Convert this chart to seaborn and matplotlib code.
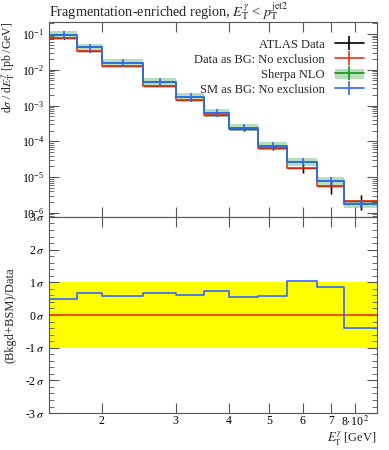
import numpy as np
import pandas as pd
import matplotlib
matplotlib.use("Agg")
import matplotlib.pyplot as plt
import seaborn as sns
from matplotlib.lines import Line2D
from matplotlib.patches import Patch
from matplotlib.ticker import FixedLocator, NullFormatter, MultipleLocator

# -------------------------------
# data
# -------------------------------
edges = [150, 175, 200, 250, 300, 350, 400, 470, 550, 650, 750, 900]
data_vals = [0.075, 0.033, 0.0129, 0.0036, 0.00138, 5.3e-4, 2.15e-4, 6.4e-5, 1.8e-5, 5.5e-6, 2.2e-6]
data_relerr = [0.04, 0.04, 0.04, 0.05, 0.05, 0.06, 0.07, 0.10, 0.30, 0.40, 0.45]
sherpa_vals = [0.091, 0.042, 0.0154, 0.0045, 0.0017, 6.3e-4, 2.4e-4, 7.4e-5, 2.6e-5, 7.6e-6, 1.74e-6]
sherpa_up = [0.118, 0.054, 0.020, 0.0058, 0.0022, 8.1e-4, 3.1e-4, 9.5e-5, 3.4e-5, 9.8e-6, 2.25e-6]
sherpa_dn = [0.071, 0.033, 0.0121, 0.0035, 0.00133, 4.9e-4, 1.88e-4, 5.8e-5, 2.0e-5, 5.9e-6, 1.36e-6]
ratio_sigma = [0.50, 0.66, 0.58, 0.66, 0.61, 0.73, 0.55, 0.59, 1.05, 0.87, -0.41]

xticks = [200, 300, 400, 500, 600, 700, 800]
xticklabels = ["2", "3", "4", "5", "6", "7", r"8$\cdot$10$^{\,2}$"]

RED = "#EE3311"
BLUE = "#3366FF"
GREEN = "#109618"
GREY = "#555555"

# -------------------------------
# style
# -------------------------------
sns.set_style("ticks")
plt.rcParams["font.family"] = ["Liberation Serif", "DejaVu Serif"]
plt.rcParams["mathtext.fontset"] = "stix"
plt.rcParams["font.size"] = 9
plt.rcParams["axes.edgecolor"] = GREY
plt.rcParams["xtick.color"] = GREY
plt.rcParams["ytick.color"] = GREY
plt.rcParams["xtick.labelcolor"] = "black"
plt.rcParams["ytick.labelcolor"] = "black"

edges_a = np.array(edges, dtype=float)
centers = 0.5 * (edges_a[1:] + edges_a[:-1])
half_w = 0.5 * (edges_a[1:] - edges_a[:-1])
data_a = np.array(data_vals)
data_err = data_a * np.array(data_relerr)
sh = np.array(sherpa_vals)
sh_up = np.array(sherpa_up)
sh_dn = np.array(sherpa_dn)


def steps(vals):
    return pd.DataFrame({"x": edges_a, "y": np.append(vals, vals[-1])})


fig = plt.figure(figsize=(3.89, 4.5), dpi=100)
ax = fig.add_axes([0.126, 0.518, 0.843, 0.433])
rax = fig.add_axes([0.126, 0.082, 0.843, 0.436], sharex=ax)

# -------------------------------
# main panel
# -------------------------------
ax.set_xscale("log")
ax.set_yscale("log")

ax.errorbar(centers, data_a, xerr=half_w, yerr=data_err, fmt="none",
            ecolor="black", elinewidth=1.0, zorder=2)
ax.errorbar(centers, data_a, yerr=data_err, fmt="none",
            ecolor=RED, elinewidth=1.0, zorder=1)
sns.lineplot(data=steps(data_a), x="x", y="y", ax=ax, color=RED,
             drawstyle="steps-post", lw=1.2, estimator=None, zorder=3)

ax.fill_between(edges_a, np.append(sh_dn, sh_dn[-1]), np.append(sh_up, sh_up[-1]),
                step="post", color=GREEN, alpha=0.3, lw=0, zorder=1)
sns.lineplot(data=steps(sh), x="x", y="y", ax=ax, color=GREEN,
             drawstyle="steps-post", lw=1.2, estimator=None, zorder=3)
ax.errorbar(centers, sh, yerr=[sh - sh_dn, sh_up - sh], fmt="none",
            ecolor=BLUE, elinewidth=1.2, zorder=4)
sns.lineplot(data=steps(sh), x="x", y="y", ax=ax, color=BLUE,
             drawstyle="steps-post", lw=1.2, estimator=None, zorder=4)

ax.set_xlim(150, 900)
ax.set_ylim(7.7e-7, 0.215)
ax.set_xlabel("")
ax.set_ylabel(r"d$\sigma$ / d$E_{\mathrm{T}}^{\gamma}$ [pb /GeV]", fontsize=8.5, loc="top")
ax.yaxis.set_label_coords(-0.098, 1.0)
ax.set_title(r"Fragmentation-enriched region, $E_{\mathrm{T}}^{\gamma}$ < $p_{\mathrm{T}}^{\mathrm{jet2}}$",
             loc="left", fontsize=10.3, pad=3)

h_data = (Line2D([], [], color="black", lw=1.2), Line2D([], [], color="black", marker="|", ms=10, mew=1.2, ls="none"))
h_red = (Line2D([], [], color=RED, lw=1.2), Line2D([], [], color=RED, marker="|", ms=10, mew=1.2, ls="none"))
h_sh = (Patch(facecolor=GREEN, alpha=0.3, lw=0), Line2D([], [], color=GREEN, lw=1.2),
        Line2D([], [], color=GREEN, marker="|", ms=10, mew=1.2, ls="none"))
h_blue = (Line2D([], [], color=BLUE, lw=1.2), Line2D([], [], color=BLUE, marker="|", ms=10, mew=1.2, ls="none"))
ax.legend([h_data, h_red, h_sh, h_blue],
          ["ATLAS Data", "Data as BG: No exclusion", "Sherpa NLO", "SM as BG: No exclusion"],
          loc="upper right", bbox_to_anchor=(0.975, 0.94), frameon=False, markerfirst=False,
          handlelength=2.3, handleheight=0.9, labelspacing=0.2, fontsize=9, borderaxespad=0)

# -------------------------------
# ratio panel
# -------------------------------
rax.axhspan(-1, 1, color="#FFFF00", lw=0, zorder=0)
rax.axhline(0, color=RED, lw=1.2, zorder=2)
sns.lineplot(data=steps(np.array(ratio_sigma)), x="x", y="y", ax=rax, color=BLUE,
             drawstyle="steps-post", lw=1.2, estimator=None, zorder=3)
rax.set_ylim(-3, 3)
rax.set_yticks([-3, -2, -1, 0, 1, 2, 3])
rax.set_yticklabels([r"-3$\,\sigma$", r"-2$\,\sigma$", r"-1$\,\sigma$", r"0$\,\sigma$",
                     r"1$\,\sigma$", r"2$\,\sigma$", r"3$\,\sigma$"])
rax.yaxis.set_minor_locator(MultipleLocator(0.2))
rax.set_ylabel("(Bkgd+BSM)/Data", fontsize=9)
rax.yaxis.set_label_coords(-0.098, 0.5)
rax.set_xlabel("")
fig.text(0.969, 0.005, r"$E_{\mathrm{T}}^{\gamma}$ [GeV]", fontsize=9, ha="right", va="bottom")

rax.xaxis.set_major_locator(FixedLocator(xticks))
rax.xaxis.set_minor_locator(FixedLocator([]))
rax.set_xticklabels(xticklabels)
rax.xaxis.set_minor_formatter(NullFormatter())
rax.set_xlim(150, 900)

for a in (ax, rax):
    a.tick_params(which="major", direction="in", length=7, width=0.8, top=True, right=True, labelsize=8.5)
    a.tick_params(which="minor", direction="in", length=3.5, width=0.6, top=True, right=True)
    for s in a.spines.values():
        s.set_linewidth(0.8)
ax.tick_params(axis="x", labelbottom=False)
rax.tick_params(axis="x", pad=1.5)

fig.savefig("out.png", dpi=100)
